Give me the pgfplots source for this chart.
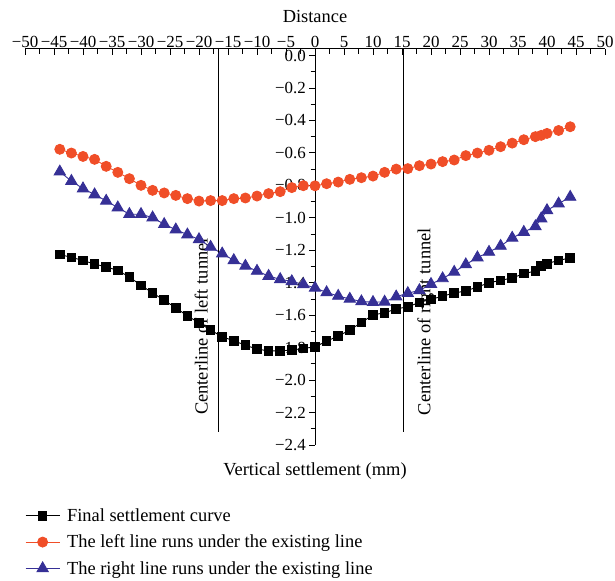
\documentclass[border=0pt]{standalone}
\usepackage{fontspec}
\setmainfont{Liberation Serif}
\usepackage{pgfplots}
\usepackage{pgfplotstable}
\pgfplotsset{compat=1.18}
\definecolor{cred}{RGB}{240,78,40}
\definecolor{cblue}{RGB}{54,48,150}
\pgfplotstableread{
x y
-44 -1.226
-42 -1.244
-40 -1.263
-38 -1.285
-36 -1.303
-34 -1.324
-32 -1.365
-30 -1.416
-28 -1.463
-26 -1.508
-24 -1.555
-22 -1.604
-20 -1.647
-18 -1.692
-16 -1.733
-14 -1.758
-12 -1.785
-10 -1.809
-8 -1.820
-6 -1.820
-4 -1.815
-2 -1.805
0 -1.795
2 -1.760
4 -1.729
6 -1.692
8 -1.645
10 -1.599
12 -1.585
14 -1.562
16 -1.548
18 -1.522
20 -1.502
22 -1.483
24 -1.463
26 -1.451
28 -1.426
30 -1.401
32 -1.385
34 -1.371
36 -1.344
38 -1.328
39 -1.297
40 -1.283
42 -1.262
44 -1.248
}\finaltab
\pgfplotstableread{
x y
-44 -0.578
-42 -0.601
-40 -0.622
-38 -0.640
-36 -0.683
-34 -0.720
-32 -0.759
-30 -0.800
-28 -0.831
-26 -0.847
-24 -0.862
-22 -0.882
-20 -0.897
-18 -0.894
-16 -0.894
-14 -0.882
-12 -0.878
-10 -0.866
-8 -0.851
-6 -0.839
-4 -0.814
-2 -0.802
0 -0.803
2 -0.790
4 -0.780
6 -0.763
8 -0.753
10 -0.743
12 -0.720
14 -0.700
16 -0.697
18 -0.679
20 -0.669
22 -0.654
24 -0.644
26 -0.617
28 -0.601
30 -0.584
32 -0.562
34 -0.540
36 -0.519
38 -0.500
39 -0.492
40 -0.480
42 -0.462
44 -0.439
}\lefttab
\pgfplotstableread{
x y
-44 -0.716
-42 -0.774
-40 -0.820
-38 -0.857
-36 -0.896
-34 -0.937
-32 -0.978
-30 -0.978
-28 -0.999
-26 -1.040
-24 -1.073
-22 -1.104
-20 -1.133
-18 -1.180
-16 -1.221
-14 -1.262
-12 -1.297
-10 -1.328
-8 -1.359
-6 -1.379
-4 -1.392
-2 -1.410
0 -1.432
2 -1.460
4 -1.482
6 -1.500
8 -1.516
10 -1.520
12 -1.518
14 -1.486
16 -1.465
18 -1.447
20 -1.409
22 -1.374
24 -1.334
26 -1.288
28 -1.245
30 -1.211
32 -1.174
34 -1.124
36 -1.088
38 -1.053
39 -1.005
40 -0.954
42 -0.913
44 -0.872
}\righttab
\begin{document}
\begin{tikzpicture}[font=\fontsize{18.5}{21}\selectfont]
\begin{axis}[
  name=ax,
  scale only axis, width=580bp, height=396bp,
  xmin=-50, xmax=50, ymin=-2.4, ymax=0.04,
  axis x line=top, axis y line=middle,
  axis line style={-, line width=1bp},
  clip=false,
  xtick={-50,-45,-40,-35,-30,-25,-20,-15,-10,-5,0,5,10,15,20,25,30,35,40,45,50},
  xticklabels={−50,−45,−40,−35,−30,−25,−20,−15,−10,−5,0,5,10,15,20,25,30,35,40,45,50},
  minor x tick num=1,
  ytick={-2.4,-2.2,-2.0,-1.8,-1.6,-1.4,-1.2,-1.0,-0.8,-0.6,-0.4,-0.2,0},
  yticklabels={−2.4,−2.2,−2.0,−1.8,−1.6,−1.4,−1.2,−1.0,−0.8,−0.6,−0.4,−0.2,0.0},
  minor y tick num=1,
  tick style={black, line width=0.8bp},
  major tick length=6bp, minor tick length=4.5bp,
  xtick align=inside, ytick align=outside,
  ticklabel style={font=\fontsize{17}{19}\selectfont},
  xticklabel style={inner sep=1bp},
  yticklabel style={inner sep=2bp, xshift=-1bp},
  xlabel={Distance},
  xlabel style={at={(axis description cs:0.5,1)}, anchor=south, yshift=26bp, inner sep=0pt},
  legend style={draw=none, fill=none, at={(0,-0.155)}, anchor=north west,
    legend cell align=left, row sep=8bp, inner sep=0pt,
    font=\fontsize{18.5}{21}\selectfont,
    /tikz/every odd column/.append style={column sep=5bp}},
  legend image code/.code={\draw[mark repeat=2,mark phase=2] plot coordinates {(0bp,0bp) (17bp,0bp) (34bp,0bp)};},
]
\addplot[black, line width=0.9bp, mark=square*, mark size=4.3bp] table {\finaltab};
\addlegendentry{Final settlement curve}
\addplot[cred, line width=0.9bp, mark=*, mark size=5bp] table {\lefttab};
\addlegendentry{The left line runs under the existing line}
\addplot[cblue, line width=0.9bp, mark=triangle*, mark size=6.5bp] table {\righttab};
\addlegendentry{The right line runs under the existing line}
\addplot[black, line width=0.9bp, forget plot] coordinates {(-16.7,0.04) (-16.7,-2.32)};
\addplot[black, line width=0.9bp, forget plot] coordinates {(15.2,0.04) (15.2,-2.32)};
\node[rotate=90] at (axis cs:-19.6,-1.67) {Centerline of left tunnel};
\node[rotate=90] at (axis cs:19.1,-1.64) {Centerline of right tunnel};
\node[anchor=north] at (axis cs:0,-2.4) [yshift=-14bp] {Vertical settlement (mm)};
\end{axis}
\pgfresetboundingbox
\path ([shift={(-25bp,-135bp)}]ax.south west) rectangle ([shift={(10bp,49bp)}]ax.north east);
\end{tikzpicture}
\end{document}
